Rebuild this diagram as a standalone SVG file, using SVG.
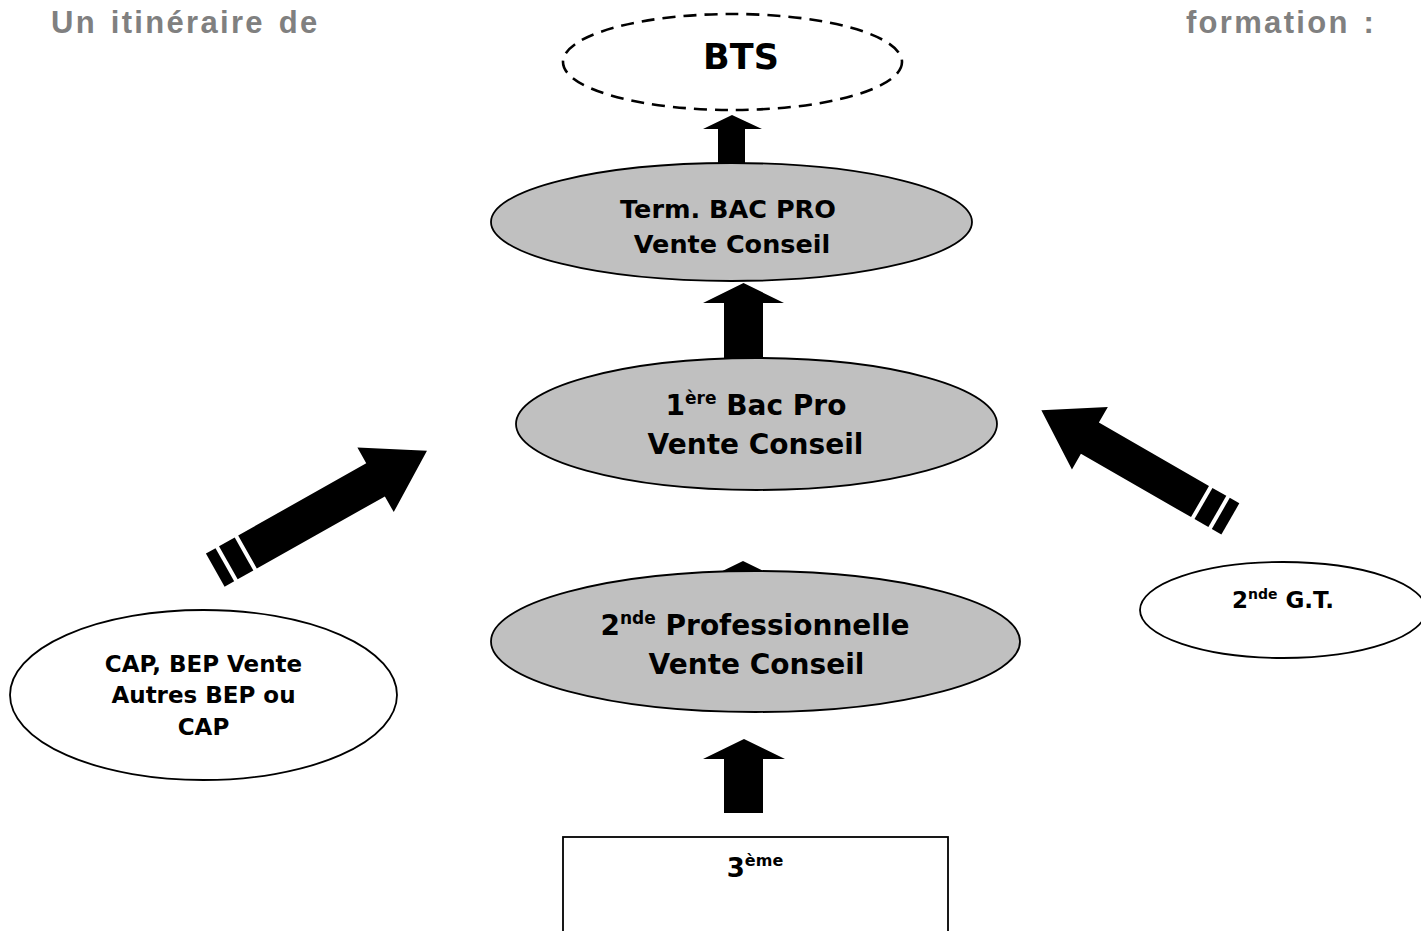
<svg xmlns="http://www.w3.org/2000/svg" width="1421" height="931" viewBox="0 0 1421 931">
<style>
.t{font-family:"DejaVu Sans","Verdana",sans-serif;font-weight:bold;fill:#000;text-anchor:middle}
.title{font-family:"Liberation Sans",Arial,sans-serif;font-weight:bold;fill:#808080;font-size:31px;letter-spacing:2.3px;word-spacing:3px}
.g{fill:#c0c0c0;stroke:#000;stroke-width:1.8}
.w{fill:#fff;stroke:#000;stroke-width:1.8}
.a{fill:#000}
</style>
<rect width="1421" height="931" fill="#fff"/>
<g id="title">
  <text class="title" x="51" y="33">Un itinéraire de</text>
  <text class="title" x="1186" y="33">formation :</text>
</g>
<g id="connectors">
  <polygon class="a" points="732,115 762,129 745,129 745,166 718,166 718,129 703,129"/>
  <polygon class="a" points="743.5,283 784,303 763,303 763,362 724,362 724,303 703,303"/>
  <polygon class="a" points="743,561 784,581 763,581 763,600 724,600 724,581 702,581"/>
  <polygon class="a" points="744,739 785,759 763,759 763,813 724,813 724,759 703,759"/>
  <g transform="translate(247.5,552) rotate(-29.4)">
    <polygon class="a" points="0,-19 147,-19 147,-37 206,0 147,37 147,19 0,19"/>
    <rect class="a" x="-22" y="-19" width="18" height="38"/>
    <rect class="a" x="-37" y="-19" width="11" height="38"/>
  </g>
  <g transform="translate(1200,501.5) rotate(-150.1)">
    <polygon class="a" points="0,-18 127,-18 127,-36 183,0 127,36 127,18 0,18"/>
    <rect class="a" x="-20" y="-18" width="16" height="36"/>
    <rect class="a" x="-35" y="-18" width="11" height="36"/>
  </g>
</g>
<g id="bts">
  <ellipse cx="732.5" cy="62" rx="169.5" ry="48" fill="#fff" stroke="#000" stroke-width="2.6" stroke-dasharray="13,8"/>
  <text class="t" x="741" y="69" font-size="35">BTS</text>
</g>
<g id="term">
  <ellipse class="g" cx="731.5" cy="222" rx="240.5" ry="59"/>
  <text class="t" x="728" y="218" font-size="25.5">Term. BAC PRO</text>
  <text class="t" x="732" y="253" font-size="25.5">Vente Conseil</text>
</g>
<g id="premiere">
  <ellipse class="g" cx="756.5" cy="424" rx="240.5" ry="66"/>
  <text class="t" x="756" y="415" font-size="28">1<tspan font-size="17" dy="-11">ère</tspan><tspan dy="11"> Bac Pro</tspan></text>
  <text class="t" x="755.5" y="454" font-size="28">Vente Conseil</text>
</g>
<g id="seconde-pro">
  <ellipse class="g" cx="755.5" cy="641.5" rx="264.5" ry="70.5"/>
  <text class="t" x="755" y="635" font-size="28">2<tspan font-size="17" dy="-11">nde</tspan><tspan dy="11"> Professionnelle</tspan></text>
  <text class="t" x="756.5" y="674" font-size="28">Vente Conseil</text>
</g>
<g id="cap-bep">
  <ellipse class="w" cx="203.5" cy="695" rx="193.5" ry="85"/>
  <text class="t" x="203.5" y="672" font-size="23">CAP, BEP Vente</text>
  <text class="t" x="203.5" y="703" font-size="23">Autres BEP ou</text>
  <text class="t" x="203.5" y="735" font-size="23">CAP</text>
</g>
<g id="seconde-gt">
  <ellipse class="w" cx="1283" cy="610" rx="143" ry="48"/>
  <text class="t" x="1283" y="608" font-size="23">2<tspan font-size="14" dy="-9">nde</tspan><tspan dy="9"> G.T.</tspan></text>
</g>
<g id="troisieme">
  <rect class="w" x="563" y="837" width="385" height="110"/>
  <text class="t" x="755" y="877" font-size="26">3<tspan font-size="16" dy="-11">ème</tspan></text>
</g>
</svg>
